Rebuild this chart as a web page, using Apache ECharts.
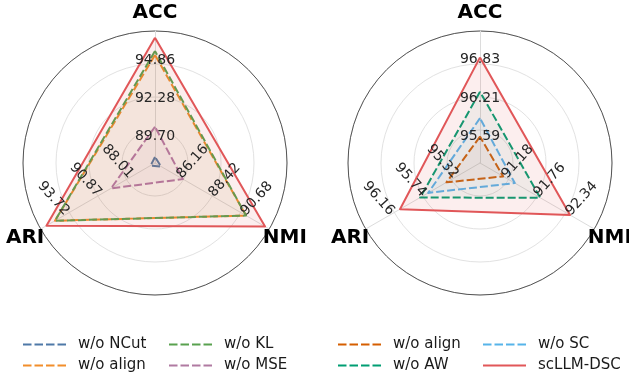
<!DOCTYPE html>
<html><head><meta charset="utf-8">
<script src="https://cdn.jsdelivr.net/npm/echarts@6/dist/echarts.min.js"></script>
<style>html,body{margin:0;padding:0;background:#fff}#c{width:629px;height:380px}</style>
</head><body><div id="c"></div>
<script>
// ---------- data ----------
// indicator order used by the radar (counter-clockwise from top)
const indicatorOrder = ['ACC', 'ARI', 'NMI'];

// tick labels per axis
const leftTicksACC = [89.70, 92.28, 94.86];
const leftTicksNMI = [86.16, 88.42, 90.68];
const leftTicksARI = [88.01, 90.87, 93.72];
const rightTicksACC = [95.59, 96.21, 96.83];
const rightTicksNMI = [91.18, 91.76, 92.34];
const rightTicksARI = [95.32, 95.74, 96.16];

// axis value ranges [center, outer ring]
const leftRangeACC = [87.87, 96.83];
const leftRangeNMI = [84.21, 92.27];
const leftRangeARI = [85.59, 95.75];
const rightRangeACC = [95.15, 97.30];
const rightRangeNMI = [90.68, 92.75];
const rightRangeARI = [94.96, 96.46];

// series values: [ACC, NMI, ARI]
const leftNames = ['w/o NCut', 'w/o align', 'w/o KL', 'w/o MSE', 'scLLM-DSC'];
const leftNCut  = [88.28, 84.64, 85.98];
const leftAlign = [95.20, 90.63, 94.48];
const leftKL    = [95.47, 90.63, 94.48];
const leftMSE   = [90.33, 86.18, 89.50];
const leftFull  = [96.38, 91.97, 95.24];

const rightNames = ['w/o align', 'w/o AW', 'w/o SC', 'scLLM-DSC'];
const rightAlign = [95.58, 91.10, 95.40];
const rightAW    = [96.31, 91.77, 95.745];
const rightSC    = [95.88, 91.31, 95.64];
const rightFull  = [96.87, 92.31, 96.01];

// ---------- style ----------
const FONT = '"DejaVu Sans", "Liberation Sans", sans-serif';
const R = 132;
const centers = [[155, 163], [480, 163]];
const leftColors = ['#4e79a7', '#f28e2b', '#59a14f', '#b07aa1', '#e15759'];
const rightColors = ['#d55e00', '#009e73', '#56b4e9', '#e15759'];
const DASH = 'path://M0,0h8.5v2h-8.5zM11.5,0h8.5v2h-8.5zM23,0h8.5v2h-8.5zM34.5,0h8.5v2h-8.5z';
const SOLID = 'path://M0,0h43v2h-43z';

const metricIdx = {ACC: 0, NMI: 1, ARI: 2};
function reorder(v) { return indicatorOrder.map(m => v[metricIdx[m]]); }

function radarComp(center, ranges) {
  return {
    center: center, radius: R, startAngle: 90, shape: 'circle', splitNumber: 4,
    indicator: indicatorOrder.map(m => ({name: m, min: ranges[m][0], max: ranges[m][1]})),
    axisName: {show: false},
    axisLine: {lineStyle: {color: '#dcdcdc', width: 1}},
    axisTick: {show: false},
    axisLabel: {show: false},
    splitArea: {show: false},
    splitLine: {lineStyle: {color: ['#e2e2e2', '#e2e2e2', '#e2e2e2', '#e2e2e2', '#555555'], width: 1}}
  };
}

function radarSeries(radarIndex, names, values, colors) {
  return names.map((n, i) => {
    const solid = n === 'scLLM-DSC';
    return {
      type: 'radar', radarIndex: radarIndex, name: n, symbol: 'none', silent: true,
      data: [{
        name: n, value: reorder(values[i]),
        lineStyle: {color: colors[i], width: 2, type: solid ? 'solid' : [8, 3]},
        areaStyle: {color: colors[i], opacity: solid ? 0.1 : 0.05},
        itemStyle: {color: colors[i]}
      }]
    };
  });
}

function axisTexts(center, ranges, ticks) {
  const els = [];
  indicatorOrder.forEach((m, i) => {
    const a = (90 + i * 120) * Math.PI / 180;
    const dx = Math.cos(a), dy = -Math.sin(a);
    let px = -dy, py = dx;
    if (py > 0) { px = -px; py = -py; }
    const off = m === 'ACC' ? 0 : 20;
    const tilt = 48 * Math.PI / 180;
    const rot = m === 'ACC' ? 0 : (dx > 0 ? tilt : -tilt);
    const [mn, mx] = ranges[m];
    ticks[m].forEach(v => {
      const r = R * (v - mn) / (mx - mn);
      els.push({
        type: 'text', z: 100, silent: true,
        x: center[0] + r * dx + off * px, y: center[1] + r * dy + off * py, rotation: rot,
        style: {text: v.toFixed(2), x: 0, y: 0, align: 'center', verticalAlign: 'middle',
                textAlign: 'center', textVerticalAlign: 'middle',
                fontSize: 14, fontFamily: FONT, fill: '#262626'}
      });
    });
    els.push({
      type: 'text', z: 100, silent: true,
      x: center[0] + 150 * dx, y: center[1] + 150 * dy,
      style: {text: m, x: 0, y: 0, align: 'center', verticalAlign: 'middle',
              textAlign: 'center', textVerticalAlign: 'middle',
              fontSize: 20, fontWeight: 'bold', fontFamily: FONT, fill: '#000000'}
    });
  });
  return els;
}

function legendComp(left, items) {
  return {
    orient: 'vertical', left: left, top: 337, padding: 0, itemGap: 6,
    itemWidth: 43, itemHeight: 14, selectedMode: false,
    textStyle: {fontFamily: FONT, fontSize: 15, color: '#1a1a1a', padding: [0, 0, 0, 7]},
    data: items.map(it => ({name: it[0], icon: it[2] ? SOLID : DASH,
      itemStyle: {color: it[1], borderWidth: 0}}))
  };
}

const leftRanges = {ACC: leftRangeACC, NMI: leftRangeNMI, ARI: leftRangeARI};
const rightRanges = {ACC: rightRangeACC, NMI: rightRangeNMI, ARI: rightRangeARI};
const leftTicks = {ACC: leftTicksACC, NMI: leftTicksNMI, ARI: leftTicksARI};
const rightTicks = {ACC: rightTicksACC, NMI: rightTicksNMI, ARI: rightTicksARI};

const chart = echarts.init(document.getElementById('c'), null, {renderer: 'canvas'});
chart.setOption({
  backgroundColor: '#ffffff',
  animation: false,
  radar: [radarComp(centers[0], leftRanges), radarComp(centers[1], rightRanges)],
  series: [].concat(
    radarSeries(0, leftNames, [leftNCut, leftAlign, leftKL, leftMSE, leftFull], leftColors),
    radarSeries(1, rightNames, [rightAlign, rightAW, rightSC, rightFull], rightColors)
  ),
  legend: [
    legendComp(23, [[leftNames[0], leftColors[0]], [leftNames[1], leftColors[1]]]),
    legendComp(169, [[leftNames[2], leftColors[2]], [leftNames[3], leftColors[3]]]),
    legendComp(338, [[rightNames[0], rightColors[0]], [rightNames[1], rightColors[1]]]),
    legendComp(483, [[rightNames[2], rightColors[2]], [rightNames[3], rightColors[3], true]])
  ],
  graphic: [].concat(
    axisTexts(centers[0], leftRanges, leftTicks),
    axisTexts(centers[1], rightRanges, rightTicks)
  )
});
</script></body></html>
